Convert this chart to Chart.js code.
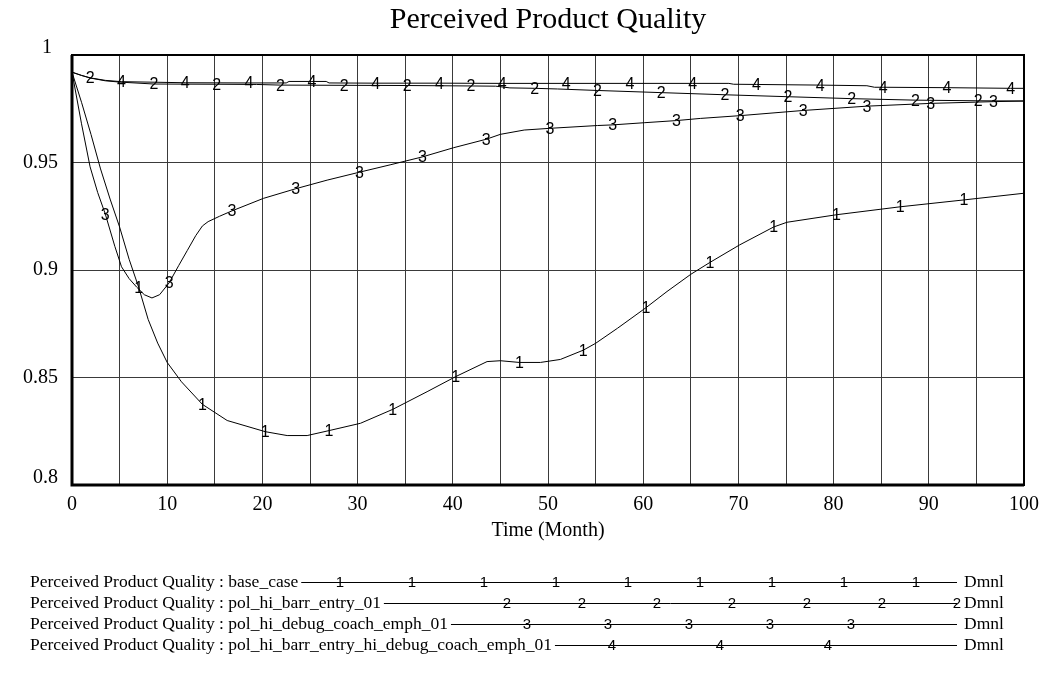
<!DOCTYPE html>
<html>
<head>
<meta charset="utf-8">
<title>Perceived Product Quality</title>
<script src="https://cdn.jsdelivr.net/npm/chart.js@4.4.0/dist/chart.umd.min.js"></script>
<style>
  html, body { margin: 0; padding: 0; background: #fff; }
  #wrap { width: 1047px; height: 679px; }
</style>
</head>
<body>
<div id="wrap"><canvas id="myChart" width="1047" height="679"></canvas></div>
<script>
const chartTitle = "Perceived Product Quality";
const xAxisTitle = "Time (Month)";
const unitLabel = "Dmnl";
const varName = "Perceived Product Quality";
const runNames = ["base_case", "pol_hi_barr_entry_01", "pol_hi_debug_coach_emph_01", "pol_hi_barr_entry_hi_debug_coach_emph_01"];
const yTickLabels = [1, 0.95, 0.9, 0.85, 0.8];

// run 1 : base_case
const timeBase = [0, 1, 2, 3, 4, 5, 6, 7.0, 8, 9, 10, 11.5, 13.7, 16.3, 20.3, 22.6, 24.7, 27.0, 30.3, 33.7, 37.3, 40.3, 43.6, 45, 47.0, 49.2, 51.3, 53.7, 55, 57.3, 60.3, 62.5, 65, 67.0, 70.1, 73.7, 75.1, 80.3, 87.0, 93.7, 100];
const valBase = [0.992, 0.978, 0.963, 0.947, 0.933, 0.920, 0.905, 0.892, 0.877, 0.866, 0.857, 0.848, 0.8375, 0.830, 0.8248, 0.823, 0.823, 0.8253, 0.8287, 0.8352, 0.8434, 0.8504, 0.8574, 0.8578, 0.857, 0.857, 0.8584, 0.8627, 0.8659, 0.8729, 0.8825, 0.890, 0.898, 0.9035, 0.9116, 0.920, 0.9222, 0.9257, 0.9294, 0.9326, 0.9357];
const markBase = [7.0, 13.7, 20.3, 27.0, 33.7, 40.3, 47.0, 53.7, 60.3, 67.0, 73.7, 80.3, 87.0, 93.7];

// run 2 : pol_hi_barr_entry_01
const timeBarr = [0, 1, 1.9, 3.5, 5, 8.6, 15.2, 19.4, 21.9, 28.6, 35.2, 41.9, 44.5, 46, 48.6, 51, 55.2, 61.9, 68.6, 75.2, 81.9, 88.6, 95.2, 100];
const valBarr = [0.992, 0.9905, 0.9893, 0.988, 0.9874, 0.9865, 0.9864, 0.9863, 0.986, 0.9859, 0.9858, 0.9856, 0.9855, 0.9847, 0.9845, 0.9842, 0.9835, 0.9825, 0.9815, 0.9806, 0.9797, 0.979, 0.9787, 0.9786];
const markBarr = [1.9, 8.6, 15.2, 21.9, 28.6, 35.2, 41.9, 48.6, 55.2, 61.9, 68.6, 75.2, 81.9, 88.6, 95.2];

// run 3 : pol_hi_debug_coach_emph_01
const timeDebug = [0, 1, 1.9, 2.7, 3.5, 4.5, 5.2, 6.0, 6.8, 7.6, 8.4, 9.2, 10.2, 11.2, 12.1, 13.0, 13.7, 14.3, 15.5, 16.8, 20.1, 23.5, 26.8, 30.2, 33.5, 36.8, 40.1, 43.5, 45, 47.5, 50.2, 55.2, 56.8, 60.1, 63.5, 66, 70.2, 76.8, 83.5, 90.2, 96.8, 100];
const valDebug = [0.992, 0.968, 0.948, 0.936, 0.926, 0.911, 0.9015, 0.896, 0.892, 0.8885, 0.887, 0.8885, 0.894, 0.902, 0.909, 0.916, 0.9205, 0.9225, 0.925, 0.9275, 0.9333, 0.9378, 0.9418, 0.9455, 0.949, 0.9526, 0.9569, 0.9608, 0.9631, 0.9651, 0.9659, 0.9672, 0.9675, 0.9685, 0.9695, 0.9705, 0.9718, 0.9742, 0.9762, 0.9775, 0.9783, 0.9786];
const markDebug = [3.5, 10.2, 16.8, 23.5, 30.2, 36.8, 43.5, 50.2, 56.8, 63.5, 70.2, 76.8, 83.5, 90.2, 96.8];

// run 4 : pol_hi_barr_entry_hi_debug_coach_emph_01
const timeBoth = [0, 1, 2, 3.5, 5.2, 11.9, 18.6, 22.5, 22.8, 25.2, 26.7, 27.0, 31.9, 38.6, 45.2, 51.9, 58.6, 65.2, 69.0, 69.5, 71.9, 78.6, 83.5, 84.3, 85.2, 91.9, 98.6, 100];
const valBoth = [0.992, 0.9905, 0.9893, 0.9882, 0.9876, 0.9871, 0.987, 0.987, 0.9877, 0.9877, 0.9877, 0.987, 0.9869, 0.9869, 0.9868, 0.9868, 0.9868, 0.9868, 0.9868, 0.9864, 0.9863, 0.986, 0.9857, 0.985, 0.985, 0.9848, 0.9845, 0.9845];
const markBoth = [5.2, 11.9, 18.6, 25.2, 31.9, 38.6, 45.2, 51.9, 58.6, 65.2, 71.9, 78.6, 85.2, 91.9, 98.6];

// how many digits sit on each legend line
const legendMarks = [9, 7, 5, 3];

function pairs(ts, vs) {
  return ts.map((t, i) => ({ x: t, y: vs[i] }));
}

function makeRun(label, digit, ts, vs, marks) {
  return {
    label: label,
    digit: digit,
    marks: marks,
    data: pairs(ts, vs),
    borderColor: "#000",
    borderWidth: 1,
    pointRadius: 0,
    pointHoverRadius: 0,
    tension: 0,
    fill: false
  };
}

const serif = '"Liberation Serif", "Times New Roman", serif';
const sans = '"Liberation Sans", Arial, sans-serif';

// digits drawn on top of every run line, Vensim style
const runDigits = {
  id: "runDigits",
  afterDatasetsDraw(chart) {
    const ctx = chart.ctx;
    ctx.save();
    ctx.font = "16px " + sans;
    ctx.fillStyle = "#000";
    ctx.textAlign = "center";
    ctx.textBaseline = "middle";
    chart.data.datasets.forEach((ds, i) => {
      const meta = chart.getDatasetMeta(i);
      meta.data.forEach((pt, j) => {
        if (ds.marks.includes(ds.data[j].x)) {
          ctx.fillText(ds.digit, pt.x, pt.y + 1);
        }
      });
    });
    ctx.restore();
  }
};

// frame, y labels and the run list under the axis
const frameAndLegend = {
  id: "frameAndLegend",
  afterDraw(chart) {
    const ctx = chart.ctx;
    const a = chart.chartArea;
    const yScale = chart.scales.y;
    ctx.save();

    ctx.strokeStyle = "#000";
    ctx.lineWidth = 2;
    ctx.strokeRect(a.left, a.top, a.right - a.left, a.bottom - a.top);
    ctx.lineWidth = 3;
    ctx.beginPath();
    ctx.moveTo(a.left, a.top);
    ctx.lineTo(a.left, a.bottom);
    ctx.lineTo(a.right, a.bottom);
    ctx.stroke();

    ctx.fillStyle = "#000";
    ctx.font = "20px " + serif;
    ctx.textAlign = "right";
    yTickLabels.forEach((v, i) => {
      const py = yScale.getPixelForValue(v);
      if (i === 0) {
        ctx.textBaseline = "alphabetic";
        ctx.fillText(String(v), a.left - 20, py - 2);
      } else if (i === yTickLabels.length - 1) {
        ctx.textBaseline = "alphabetic";
        ctx.fillText(String(v), a.left - 14, py - 2);
      } else {
        ctx.textBaseline = "middle";
        ctx.fillText(String(v), a.left - 14, py);
      }
    });

    ctx.font = "17.5px " + serif;
    ctx.textAlign = "left";
    ctx.textBaseline = "middle";
    const lineEnd = 957;
    const firstMark = [340, 507, 527, 612];
    const markStep = [72, 75, 81, 108];
    runNames.forEach((name, i) => {
      const y = 582 + i * 21;
      const txt = varName + " : " + name;
      ctx.fillStyle = "#000";
      ctx.fillText(txt, 30, y);
      const x0 = 30 + ctx.measureText(txt).width + 3;
      ctx.lineWidth = 1;
      ctx.beginPath();
      ctx.moveTo(x0, y + 0.5);
      ctx.lineTo(lineEnd, y + 0.5);
      ctx.stroke();
      ctx.fillText(unitLabel, 964, y);
      ctx.save();
      ctx.font = "15px " + sans;
      ctx.textAlign = "center";
      for (let k = 0; k < legendMarks[i]; k++) {
        ctx.fillText(String(i + 1), firstMark[i] + k * markStep[i], y + 1);
      }
      ctx.restore();
    });
    ctx.restore();
  }
};

const ctx = document.getElementById("myChart").getContext("2d");
const chart = new Chart(ctx, {
  type: "line",
  data: {
    datasets: [
      makeRun(runNames[0], "1", timeBase, valBase, markBase),
      makeRun(runNames[1], "2", timeBarr, valBarr, markBarr),
      makeRun(runNames[2], "3", timeDebug, valDebug, markDebug),
      makeRun(runNames[3], "4", timeBoth, valBoth, markBoth)
    ]
  },
  options: {
    responsive: false,
    animation: false,
    events: [],
    layout: { padding: { left: 72, right: 23, top: 0, bottom: 134 } },
    plugins: {
      legend: { display: false },
      tooltip: { enabled: false },
      title: {
        display: true,
        text: chartTitle,
        color: "#000",
        font: { family: serif, size: 30, weight: "normal" },
        padding: { top: 2, bottom: 17 }
      }
    },
    scales: {
      x: {
        type: "linear",
        min: 0,
        max: 100,
        afterFit(scale) { scale.height = 60; },
        border: { display: false },
        grid: { color: "#3a3a3a", lineWidth: 1, drawTicks: false },
        ticks: {
          stepSize: 5,
          autoSkip: false,
          maxRotation: 0,
          padding: 8,
          color: "#000",
          font: { family: serif, size: 20 },
          callback: (v) => (v % 10 === 0 ? String(v) : "")
        },
        title: {
          display: true,
          text: xAxisTitle,
          color: "#000",
          font: { family: serif, size: 20 },
          padding: { top: 0, bottom: 2 }
        }
      },
      y: {
        min: 0.8,
        max: 1,
        afterFit(scale) { scale.width = 0; },
        border: { display: false },
        grid: { color: "#3a3a3a", lineWidth: 1, drawTicks: false },
        ticks: { stepSize: 0.05, display: false }
      }
    }
  },
  plugins: [runDigits, frameAndLegend]
});
</script>
</body>
</html>
